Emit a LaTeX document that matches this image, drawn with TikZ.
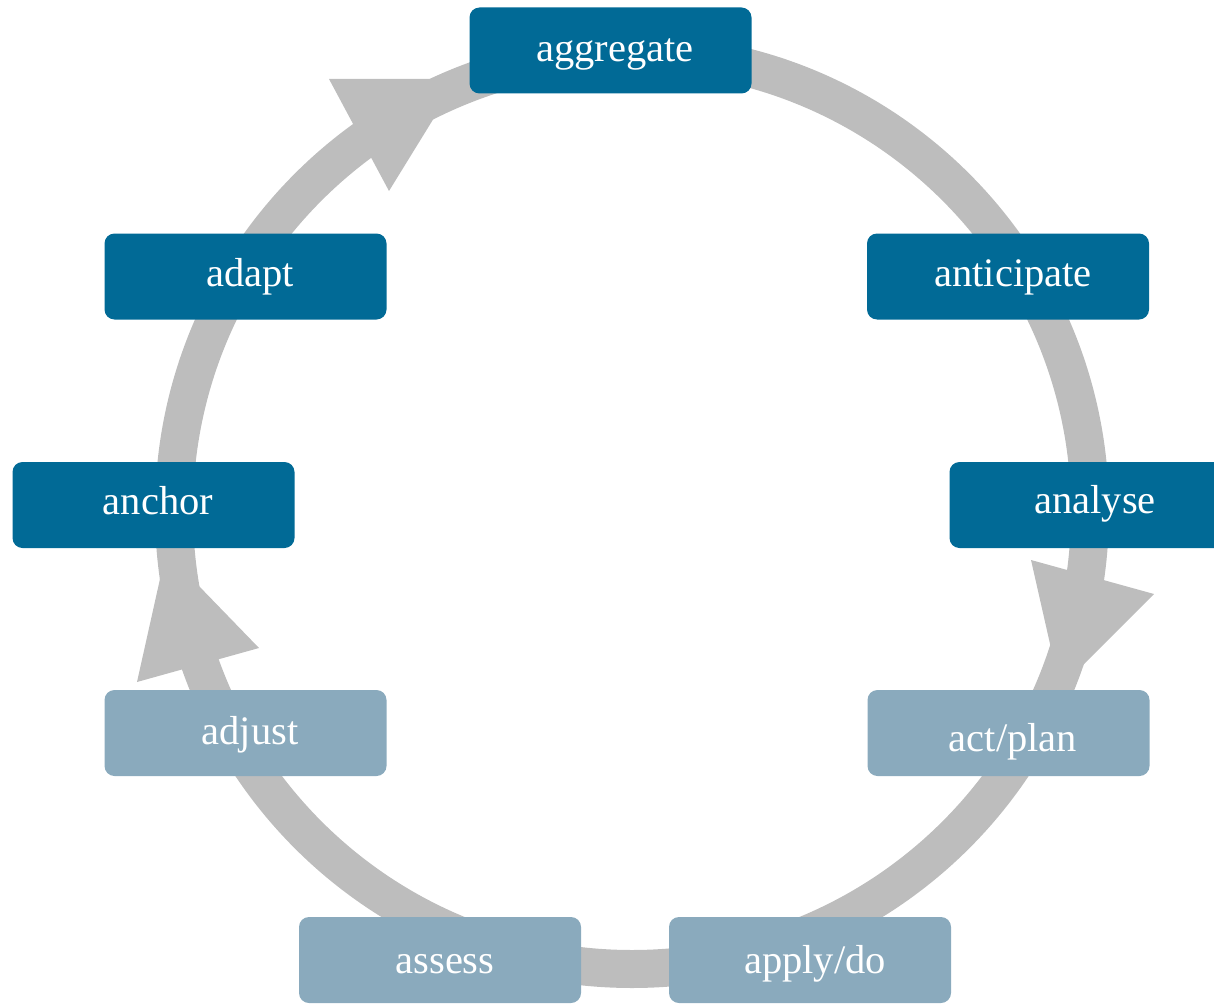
\documentclass[tikz,border=0pt]{standalone}
\usepackage{fontspec}
\setmainfont{Liberation Serif}
\definecolor{stagedark}{RGB}{1,106,150}
\definecolor{stagelight}{RGB}{138,170,189}
\definecolor{ringgray}{RGB}{189,189,189}
\begin{document}
\begin{tikzpicture}[x=1pt,y=-1pt,
  ring/.style={draw=ringgray,line width=38pt},
  arrowhead/.style={fill=ringgray,draw=none},
  stagebox/.style={rectangle,rounded corners=10pt,minimum width=282pt,minimum height=86pt,inner sep=0pt,draw=none},
  darkbox/.style={stagebox,fill=stagedark},
  lightbox/.style={stagebox,fill=stagelight},
  stagetext/.style={anchor=base,text=white,inner sep=0pt,font=\fontsize{40.5}{48}\selectfont}]
\useasboundingbox (0,0) rectangle (1214,1003);
\clip (0,0) rectangle (1214,1003);

% the cycle ring
\coordinate (centre) at (632,511);
\draw[ring] (centre) circle[radius=458pt];

% arrowheads along the ring (clockwise)
\coordinate (h1a) at (329,79);
\coordinate (h1b) at (389,191);
\coordinate (h1t) at (458,79);
\fill[arrowhead] (h1a) -- (h1b) -- (h1t) -- cycle;
\coordinate (h2a) at (1031,560);
\coordinate (h2b) at (1154,594);
\coordinate (h2t) at (1060,688);
\fill[arrowhead] (h2a) -- (h2b) -- (h2t) -- cycle;
\coordinate (h3a) at (137,682);
\coordinate (h3b) at (259,648);
\coordinate (h3t) at (166,552);
\fill[arrowhead] (h3a) -- (h3b) -- (h3t) -- cycle;

% stage boxes
\node[darkbox]  (aggregate)  at (610.5,50.5) {};
\node[darkbox]  (anticipate) at (1008,276.5) {};
\node[darkbox]  (analyse)    at (1090.5,505) {};
\node[lightbox] (actplan)    at (1008.5,733) {};
\node[lightbox] (applydo)    at (810,960) {};
\node[lightbox] (assess)     at (440,960) {};
\node[lightbox] (adjust)     at (245.5,733) {};
\node[darkbox]  (anchor)     at (153.5,505) {};
\node[darkbox]  (adapt)      at (245.5,276.5) {};

% labels
\node[stagetext] (taggregate)  at (615,62)  {aggregate};
\node[stagetext] (tanticipate) at (1013,286) {anticipate};
\node[stagetext] (tanalyse)    at (1095,513) {analyse};
\node[stagetext] (tactplan)    at (1013,751) {act/plan};
\node[stagetext] (tapplydo)    at (815,973) {apply/do};
\node[stagetext] (tassess)     at (445,973) {assess};
\node[stagetext] (tadjust)     at (250,744) {adjust};
\node[stagetext] (tanchor)     at (158,514) {anchor};
\node[stagetext] (tadapt)      at (250,286) {adapt};
\end{tikzpicture}
\end{document}
